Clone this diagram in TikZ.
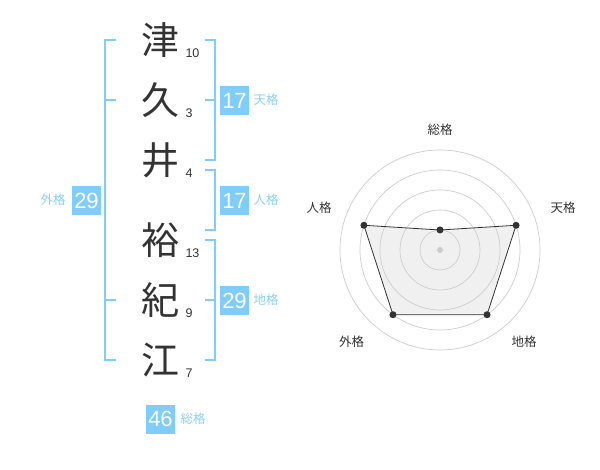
\documentclass[tikz,border=0pt]{standalone}
\usepackage{fontspec}
\setmainfont{Liberation Sans}
\newfontfamily\jp{Noto Sans CJK JP}
\definecolor{kakublue}{HTML}{80CCFA}
\definecolor{kakutext}{HTML}{8CCFF5}
\definecolor{ink}{HTML}{333333}
\definecolor{ring}{HTML}{CCCCCC}

\begin{document}
\begin{tikzpicture}[x=1pt, y=-1pt, line width=1pt,
        kanji/.style={font=\jp\fontsize{38}{38}\selectfont, text=ink, inner sep=0pt},
        strokes/.style={font=\fontsize{12.5}{12.5}\selectfont, text=ink, anchor=west, inner sep=0pt},
        kakubox/.style={fill=kakublue, text=white, minimum size=29pt, inner sep=0pt, font=\fontsize{22}{22}\selectfont},
        kakuname/.style={font=\jp\fontsize{12.5}{12.5}\selectfont, text=kakutext, inner sep=0pt},
        axisname/.style={font=\jp\fontsize{12.5}{12.5}\selectfont, text=ink, inner sep=0pt},
        bracket/.style={draw=kakublue, line width=2pt}]
                \path (0, 0) rectangle (600, 470);
                % name and strokes
                \foreach \ch/\n/\y [count=\i] in {津/10/40, 久/3/100, 井/4/160, 裕/13/240, 紀/9/300, 江/7/360} {
                        \node[kanji] (k\i) at (160, \y) {\ch};
                        \node[strokes] (s\i) at (185, \y+13) {\n};
                }
                % brackets
                \draw[bracket] (116, 40) -- (105, 40) -- (105, 360) -- (116, 360);
                \draw[bracket] (205, 40) -- (215, 40) -- (215, 160) -- (205, 160);
                \draw[bracket] (205, 170) -- (215, 170) -- (215, 230) -- (205, 230);
                \draw[bracket] (205, 240) -- (215, 240) -- (215, 360) -- (205, 360);
                \foreach \y in {100, 300} {
                        \draw[bracket] (105, \y) -- (116, \y);
                        \draw[bracket] (205, \y) -- (215, \y);
                }
                % kaku boxes
                \node[kakubox] (ten) at (234.5, 100.5) {17};
                \node[kakuname, anchor=west] (tenname) at (253, 100) {天格};
                \node[kakubox] (jin) at (234.5, 200.5) {17};
                \node[kakuname, anchor=west] (jinname) at (253, 200) {人格};
                \node[kakubox] (chi) at (234.5, 300.5) {29};
                \node[kakuname, anchor=west] (chiname) at (253, 300) {地格};
                \node[kakubox] (gai) at (86.5, 200.5) {29};
                \node[kakuname, anchor=east] (gainame) at (66, 200) {外格};
                \node[kakubox] (sou) at (160.5, 419) {46};
                \node[kakuname, anchor=west] (souname) at (180, 419) {総格};
                % radar
                \begin{scope}[xshift=440pt, yshift=-250pt, y=1pt]
                        \coordinate (p1) at (90:20);
                        \coordinate (p2) at (18:80);
                        \coordinate (p3) at (-54:80);
                        \coordinate (p4) at (-126:80);
                        \coordinate (p5) at (162:80);
                        \fill[black, opacity=0.06] (p1) -- (p2) -- (p3) -- (p4) -- (p5) -- cycle;
                        \foreach \r in {20, 40, ..., 100} {
                                \draw[ring, line width=0.7pt] (0, 0) circle (\r pt);
                        }
                        \fill[ring] (0, 0) circle (3pt);
                        \draw[ink, line width=0.8pt] (p1) -- (p2) -- (p3) -- (p4) -- (p5) -- cycle;
                        \foreach \p in {1, ..., 5} {
                                \fill[ink] (p\p) circle (3.5pt);
                        }
                        \node[axisname] (a1) at (0, 120) {総格};
                        \node[axisname] (a2) at (123, 42) {天格};
                        \node[axisname] (a3) at (84, -92) {地格};
                        \node[axisname] (a4) at (-88.5, -92) {外格};
                        \node[axisname] (a5) at (-121, 42) {人格};
                \end{scope}
        \end{tikzpicture}
\end{document}
